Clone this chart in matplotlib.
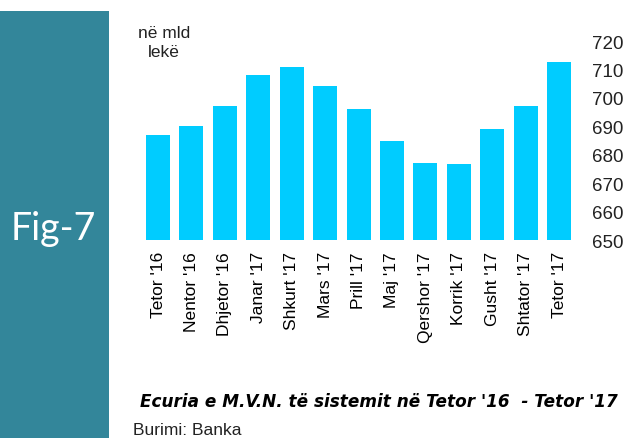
import matplotlib.pyplot as plt
from matplotlib.patches import Rectangle

plt.rcParams['font.family'] = ['Liberation Sans', 'DejaVu Sans']

months = ["Tetor '16", "Nentor '16", "Dhjetor '16", "Janar '17", "Shkurt '17",
          "Mars '17", "Prill '17", "Maj '17", "Qershor '17", "Korrik '17",
          "Gusht '17", "Shtator '17", "Tetor '17"]
values = [687, 690, 697, 708, 711, 704, 696, 685, 677, 676.6, 689, 697, 712.6]
yticks = [650, 660, 670, 680, 690, 700, 710, 720]

fig = plt.figure(figsize=(6.32, 4.39), dpi=100)

# teal side panel
fig.patches.append(Rectangle((0, 0), 109 / 632, 1 - 12 / 439, transform=fig.transFigure,
                             facecolor='#33869a', edgecolor='none', zorder=0))
fig.text(11 / 632, 1 - 229 / 439, 'Fig-7', color='white', fontsize=27,
         family=['Lato', 'DejaVu Sans'], va='center', ha='left')

ax = fig.add_axes([0.2236, 0.451, 0.6874, 0.4533])
x = range(len(months))
ax.bar(x, values, width=0.72, color='#00ccff', bottom=0)
ax.set_xlim(-0.5, len(months) - 0.5)
ax.set_ylim(650, 720)
ax.set_yticks(yticks)
ax.yaxis.tick_right()
ax.tick_params(axis='y', length=0, pad=12, labelsize=13.5, colors='#222222')
ax.set_xticks(list(x))
ax.set_xticklabels(months, rotation=90, fontsize=12.5)
ax.tick_params(axis='x', length=0, pad=8)
for s in ax.spines.values():
    s.set_visible(False)

fig.text(164 / 632, 1 - 43 / 439, 'në mld\nlekë', fontsize=12.5, ha='center', va='center',
         linespacing=1.3, color='#222222')
fig.text(140 / 632, 1 - 402 / 439, "Ecuria e M.V.N. të sistemit në Tetor '16  - Tetor '17",
         fontsize=12.2, fontweight='bold', fontstyle='italic', ha='left', va='center',
         family=['DejaVu Sans'])
fig.text(133 / 632, 1 - 431 / 439, 'Burimi: Banka', fontsize=12.5, ha='left', va='center',
         color='#222222')

fig.savefig('out.png', dpi=100)
